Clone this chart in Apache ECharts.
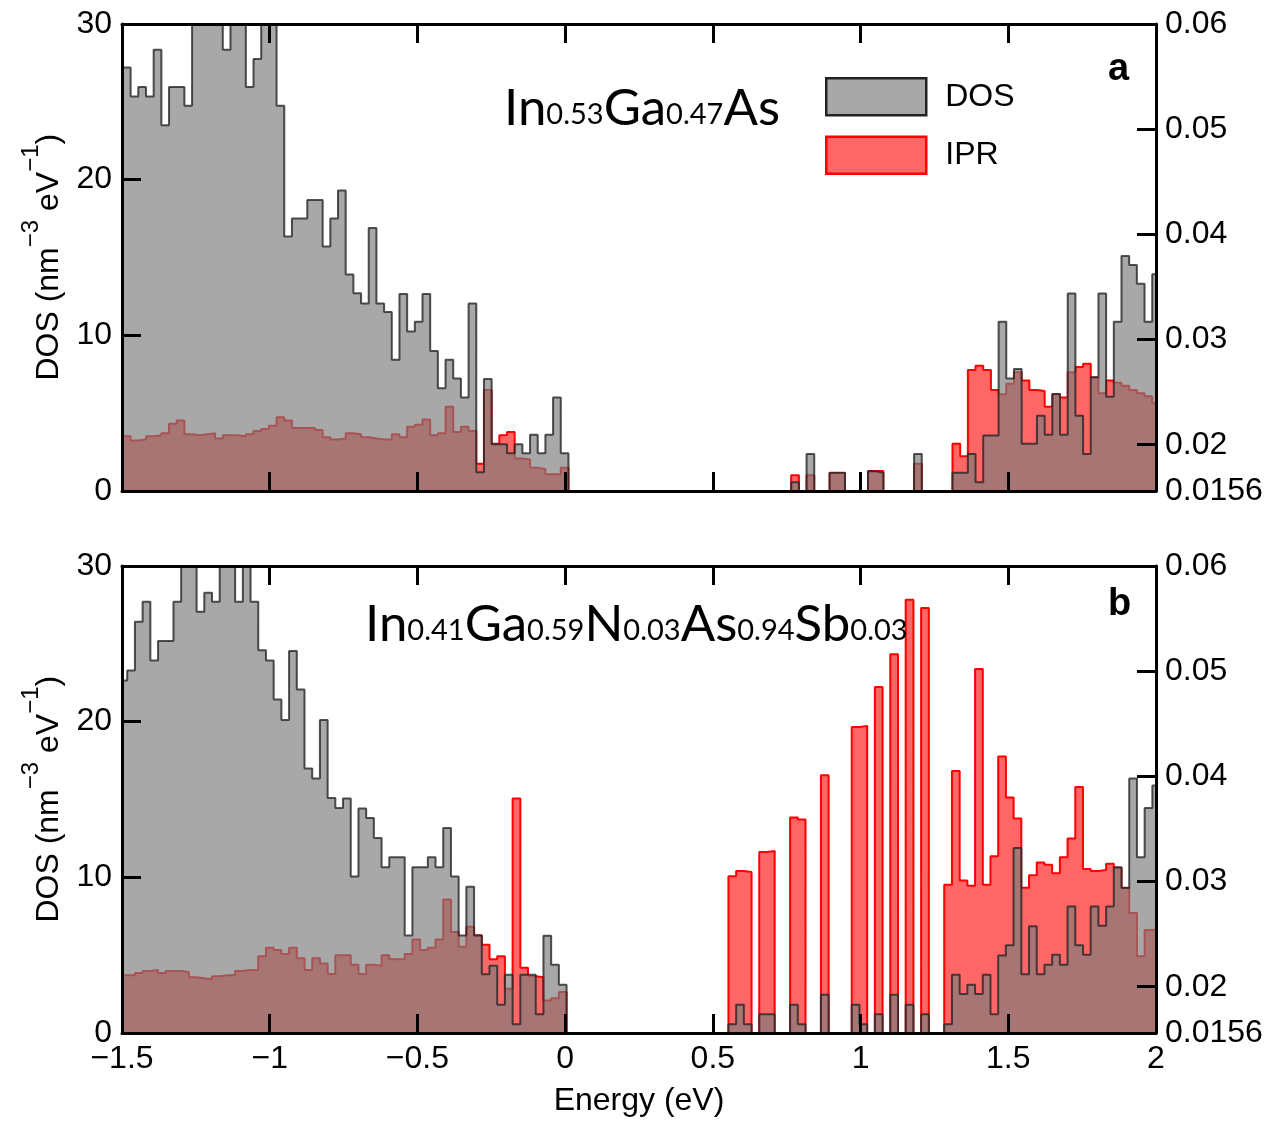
<!DOCTYPE html>
<html><head><meta charset="utf-8">
<script src="https://cdn.jsdelivr.net/npm/echarts@6/dist/echarts.min.js"></script>
<style>html,body{margin:0;padding:0;background:#fff}#c{width:1272px;height:1121px}</style>
</head><body><div id="c"></div>
<script>
// ---- data ----
const energyRange = [-1.5, 2];
const energyTicks = [-1.5, -1, -0.5, 0, 0.5, 1, 1.5, 2];
const dosTicks = [0, 10, 20, 30];
const iprTicks = [0.0156, 0.02, 0.03, 0.04, 0.05, 0.06];
const iprTickMarks = [0.02, 0.03, 0.04, 0.05];
const seriesNames = ['DOS', 'IPR'];
// histogram binning (first bin edge, bin width) in eV
const binStartA = -1.4968, binWidthA = 0.0260;
const binStartB = -1.5084, binWidthB = 0.02609;
const dosA = [27.2, 25.35, 25.95, 25.35, 28.35, 23.5, 25.95, 25.95, 24.75, 31,
 32, 33, 31, 28.35, 31, 31, 25.95, 27.75, 31, 32,
 24.75, 16.35, 17.5, 17.5, 18.7, 18.7, 15.7, 17.5, 19.3, 13.9,
 12.7, 12.05, 16.9, 12.05, 11.5, 8.43, 12.65, 10.25, 10.87, 12.65,
 9.0, 6.6, 8.43, 7.23, 6.0, 12.05, 1.2, 7.2, 3.0, 3.0,
 2.42, 3.0, 2.42, 3.62, 2.42, 3.62, 6.0, 2.42, 0, 0,
 0, 0, 0, 0, 0, 0, 0, 0, 0, 0,
 0, 0, 0, 0, 0, 0, 0, 0, 0, 0,
 0, 0, 0, 0, 0, 0, 0, 0.56, 0, 2.38,
 0, 0, 1.17, 1.17, 0, 0, 0, 1.27, 1.17, 0,
 0, 0, 0, 2.38, 0, 0, 0, 0, 1.17, 1.17,
 2.38, 0.56, 3.56, 3.56, 10.87, 7.23, 7.83, 3.03, 3.03, 4.84,
 3.62, 6.23, 3.62, 12.68, 4.84, 2.38, 7.3, 12.68, 6.06, 10.88,
 15.1, 14.52, 13.32, 10.88, 13.92];
const iprA = [0.0208, 0.0204, 0.0205, 0.0208, 0.0209, 0.0211, 0.0220, 0.0223, 0.0210, 0.0209,
 0.0210, 0.0211, 0.0206, 0.0209, 0.0209, 0.0208, 0.0210, 0.0213, 0.0215, 0.0218,
 0.0226, 0.0223, 0.0216, 0.0216, 0.0216, 0.0214, 0.0207, 0.0205, 0.0206, 0.0211,
 0.0210, 0.0207, 0.0206, 0.0205, 0.0205, 0.0210, 0.0207, 0.0217, 0.0219, 0.0224,
 0.0209, 0.0211, 0.0236, 0.0212, 0.0217, 0.0213, 0.0182, 0.0252, 0.0201, 0.0209,
 0.0212, 0.0187, 0.0186, 0.0178, 0.0177, 0.0172, 0.0172, 0.0178, 0, 0,
 0, 0, 0, 0, 0, 0, 0, 0, 0, 0,
 0, 0, 0, 0, 0, 0, 0, 0, 0, 0,
 0, 0, 0, 0, 0, 0, 0, 0.0171, 0, 0.0171,
 0, 0, 0.0173, 0.0173, 0, 0, 0, 0.0175, 0.0175, 0,
 0, 0, 0, 0.0182, 0, 0, 0, 0, 0.0201, 0.0189,
 0.0271, 0.0275, 0.0271, 0.0252, 0.0248, 0.0258, 0.0269, 0.0261, 0.0252, 0.0251,
 0.0236, 0.0248, 0.0245, 0.0269, 0.0274, 0.0277, 0.0264, 0.0249, 0.0261, 0.0259,
 0.0256, 0.0252, 0.0249, 0.0246, 0.0240];
const dosB = [22.65, 23.29, 26.42, 27.7, 23.93, 25.18, 25.18, 27.7, 31, 31.5,
 27.06, 28.28, 27.7, 31, 32, 27.7, 31, 27.7, 24.58, 23.93,
 21.43, 20.1, 24.54, 22.07, 16.99, 16.35, 20.1, 15.1, 14.46, 15.06,
 10.06, 14.42, 13.81, 12.53, 10.64, 11.29, 11.29, 6.27, 10.64, 10.64,
 11.29, 10.64, 13.17, 10.06, 6.27, 9.4, 6.27, 3.78, 4.32, 1.81,
 3.74, 0.57, 3.74, 3.74, 1.21, 6.25, 4.38, 3.1, 0, 0,
 0, 0, 0, 0, 0, 0, 0, 0, 0, 0,
 0, 0, 0, 0, 0, 0, 0, 0, 0, 0.57,
 1.81, 0.57, 0, 1.21, 1.21, 0, 0, 1.81, 0.57, 0,
 0, 2.46, 0, 0, 0, 1.81, 0.57, 0, 1.21, 0,
 2.46, 0, 1.81, 0, 1.21, 0, 0, 0.57, 3.74, 2.5,
 3.1, 2.5, 3.74, 1.21, 4.98, 5.63, 11.88, 3.78, 6.85, 3.78,
 4.38, 5.03, 4.38, 8.13, 5.63, 5.03, 8.13, 6.89, 8.13, 10.64,
 9.31, 16.35, 11.29, 14.46, 15.9];
const iprB = [0.0211, 0.0211, 0.0213, 0.0215, 0.0216, 0.0213, 0.0215, 0.0215, 0.0214, 0.0209,
 0.0208, 0.0207, 0.0210, 0.0211, 0.0211, 0.0215, 0.0216, 0.0216, 0.0229, 0.0237,
 0.0235, 0.0231, 0.0237, 0.0227, 0.0216, 0.0227, 0.0222, 0.0212, 0.0230, 0.0230,
 0.0221, 0.0212, 0.0221, 0.0220, 0.0230, 0.0226, 0.0226, 0.0231, 0.0245, 0.0235,
 0.0237, 0.0245, 0.0283, 0.0252, 0.0238, 0.0257, 0.0249, 0.0240, 0.0226, 0.0229,
 0.0198, 0.0379, 0.0218, 0.0210, 0.0209, 0.0187, 0.0189, 0.0195, 0, 0,
 0, 0, 0, 0, 0, 0, 0, 0, 0, 0,
 0, 0, 0, 0, 0, 0, 0, 0, 0, 0.0305,
 0.0310, 0.0309, 0, 0.0328, 0.0329, 0, 0, 0.0361, 0.0359, 0,
 0, 0.0401, 0, 0, 0, 0.0447, 0.0448, 0, 0.0485, 0,
 0.0516, 0, 0.0568, 0, 0.0560, 0, 0, 0.0297, 0.0405, 0.0301,
 0.0296, 0.0502, 0.0297, 0.0324, 0.0419, 0.0380, 0.0360, 0.0294, 0.0306, 0.0318,
 0.0316, 0.0308, 0.0323, 0.0341, 0.0390, 0.0312, 0.0310, 0.0311, 0.0317, 0.0313,
 0.0294, 0.0270, 0.0229, 0.0254, 0.0255];
const titleA = '{m|In}{s|0.53}{m|Ga}{s|0.47}{m|As}';
const titleB = '{m|In}{s|0.41}{m|Ga}{s|0.59}{m|N}{s|0.03}{m|As}{s|0.94}{m|Sb}{s|0.03}';
const panelLabels = ['a', 'b'];
const xName = 'Energy (eV)';
const yName = '{sp| }{t|DOS (nm}{sup|\u22123}{t| eV}{sup|\u22121}{t|)}';

// ---- build ----
const FONT = '"Liberation Sans", Arial, Helvetica, sans-serif';
const TFONT = 'Lato, "Open Sans", sans-serif';
const IPR_MIN = iprTicks[0], IPR_MAX = iprTicks[iprTicks.length - 1];
function stepData(start, width, vals, floor) {
  const pts = vals.map((v, i) => [start + i * width, Math.max(v, floor)]);
  pts.push([start + vals.length * width, Math.max(vals[vals.length - 1], floor)]);
  return pts;
}
const fmtE = v => (v < 0 ? '\u2212' + Math.abs(v) : String(v));
const AXC = '#000';
function xAxes(grid, showLabels) {
  const base = {
    gridIndex: grid, type: 'value', min: energyRange[0], max: energyRange[1], interval: 0.5, z: 10,
    axisLine: { show: true, onZero: false, lineStyle: { color: AXC, width: 3 } },
    axisTick: { show: true, inside: true, length: 19, lineStyle: { color: AXC, width: 3 } },
    splitLine: { show: false }
  };
  return [
    Object.assign({}, base, {
      position: 'bottom',
      axisLabel: { show: showLabels, formatter: fmtE, fontSize: 32, color: '#000', fontFamily: FONT, margin: 10 },
      name: showLabels ? xName : '', nameLocation: 'middle', nameGap: 52,
      nameTextStyle: { fontSize: 32, color: '#000', fontFamily: FONT }
    }),
    Object.assign({}, base, { position: 'top', axisLabel: { show: false } })
  ];
}
function yAxes(grid) {
  return [
    {
      gridIndex: grid, type: 'value', position: 'left', z: 10,
      min: dosTicks[0], max: dosTicks[dosTicks.length - 1], interval: 10,
      axisLine: { show: true, onZero: false, lineStyle: { color: AXC, width: 3 } },
      axisTick: { show: true, inside: true, length: 19, lineStyle: { color: AXC, width: 3 } },
      axisLabel: { fontSize: 32, color: '#000', fontFamily: FONT, margin: 10 },
      splitLine: { show: false },
      name: yName, nameLocation: 'middle', nameRotate: 90, nameGap: 55,
      nameTextStyle: {
        color: '#000', fontFamily: FONT,
        rich: {
          sp: { fontSize: 2, lineHeight: 46, fontFamily: FONT },
          t: { fontSize: 32, verticalAlign: 'bottom', fontFamily: FONT, color: '#000' },
          sup: { fontSize: 24, verticalAlign: 'top', fontFamily: FONT, color: '#000' }
        }
      }
    },
    {
      gridIndex: grid, type: 'value', position: 'right', z: 10, min: IPR_MIN, max: IPR_MAX,
      axisLine: { show: true, onZero: false, lineStyle: { color: AXC, width: 3 } },
      axisTick: { show: true, inside: true, length: 19, customValues: iprTickMarks, lineStyle: { color: AXC, width: 3 } },
      axisLabel: {
        customValues: iprTicks, fontSize: 32, color: '#000', fontFamily: FONT, margin: 9,
        formatter: v => (Math.abs(v - IPR_MIN) < 1e-9 ? String(IPR_MIN) : v.toFixed(2))
      },
      splitLine: { show: false }
    }
  ];
}
function panelSeries(xi, yi, start, width, dos, ipr) {
  return [
    {
      name: seriesNames[1], type: 'line', xAxisIndex: xi, yAxisIndex: yi + 1, step: 'end',
      data: stepData(start, width, ipr, IPR_MIN), showSymbol: false, symbol: 'none', z: 2,
      lineStyle: { color: '#ff0000', width: 2, opacity: 1 }, itemStyle: { color: '#ff6666' },
      areaStyle: { color: '#ff0000', opacity: 0.6, origin: 'start' }, silent: true
    },
    {
      name: seriesNames[0], type: 'line', xAxisIndex: xi, yAxisIndex: yi, step: 'end',
      data: stepData(start, width, dos, 0), showSymbol: false, symbol: 'none', z: 3,
      lineStyle: { color: '#262626', width: 2, opacity: 0.8 }, itemStyle: { color: '#a8a8a8' },
      areaStyle: { color: '#7e7e7e', opacity: 0.67, origin: 'start' }, silent: true
    }
  ];
}
const titleRich = {
  m: { fontSize: 51, fontFamily: TFONT, color: '#000', verticalAlign: 'bottom' },
  s: { fontSize: 29, fontFamily: TFONT, color: '#000', verticalAlign: 'bottom', padding: [0, 0, 5, 0] }
};
const option = {
  animation: false,
  backgroundColor: '#fff',
  grid: [
    { left: 122, right: 116, top: 24, height: 467, containLabel: false },
    { left: 122, right: 116, top: 566, height: 467, containLabel: false }
  ],
  xAxis: [...xAxes(0, false), ...xAxes(1, true)],
  yAxis: [...yAxes(0), ...yAxes(1)],
  legend: {
    orient: 'vertical', left: 825, top: 77, padding: 0, itemWidth: 100, itemHeight: 37, itemGap: 19,
    selectedMode: false,
    textStyle: { fontSize: 32, color: '#000', fontFamily: FONT, padding: [0, 0, 0, 14] },
    data: [
      { name: seriesNames[0], icon: 'rect', itemStyle: { color: '#a8a8a8', borderColor: '#222', borderWidth: 2.5 } },
      { name: seriesNames[1], icon: 'rect', itemStyle: { color: '#ff6666', borderColor: '#ff0000', borderWidth: 2.5 } }
    ]
  },
  graphic: [
    { type: 'text', x: 504, y: 134, z: 20, style: { text: titleA, rich: titleRich, align: 'left', verticalAlign: 'bottom' } },
    { type: 'text', x: 365, y: 650, z: 20, style: { text: titleB, rich: titleRich, align: 'left', verticalAlign: 'bottom' } },
    { type: 'text', x: 1108, y: 89, z: 20, style: { text: panelLabels[0], font: 'bold 38px ' + FONT, fill: '#000', align: 'left', verticalAlign: 'bottom' } },
    { type: 'text', x: 1108, y: 624, z: 20, style: { text: panelLabels[1], font: 'bold 38px ' + FONT, fill: '#000', align: 'left', verticalAlign: 'bottom' } }
  ],
  series: [
    ...panelSeries(0, 0, binStartA, binWidthA, dosA, iprA),
    ...panelSeries(2, 2, binStartB, binWidthB, dosB, iprB)
  ]
};
const chart = echarts.init(document.getElementById('c'), null, { renderer: 'canvas' });
chart.setOption(option);
</script>
</body></html>
